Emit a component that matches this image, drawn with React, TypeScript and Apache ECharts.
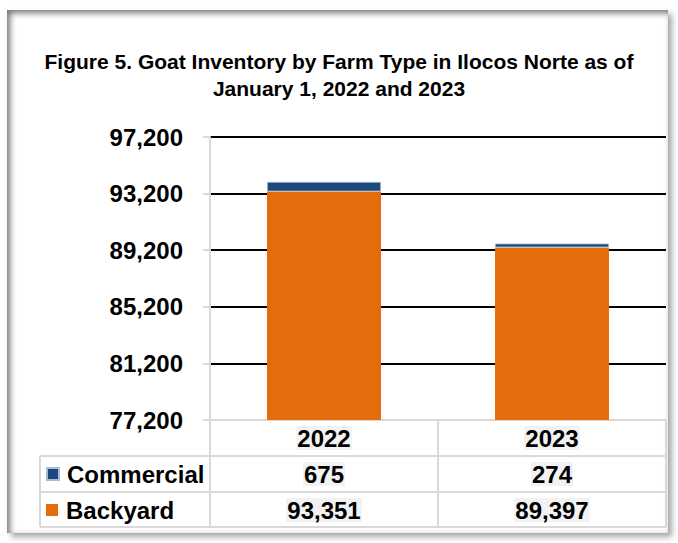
import React, { useEffect, useRef } from "react";
import * as echarts from "echarts";

const titleText = "Figure 5. Goat Inventory by Farm Type in Ilocos Norte as of\nJanuary 1, 2022 and 2023";
const years = ["2022", "2023"];
const seriesNames = ["Commercial", "Backyard"];
const commercial = [675, 274];
const backyard = [93351, 89397];
const yMin = 77200;
const yMax = 97200;
const yStep = 4000;

const fmt = (v: number) => v.toLocaleString("en-US");
const FONT = "'Liberation Sans', Arial, sans-serif";
const GRID_GREY = "#d9d9d9";

export default function App() {
  const ref = useRef<HTMLDivElement>(null);

  useEffect(() => {
    if (!ref.current) return;
    const chart = echarts.init(ref.current, undefined, { renderer: "svg" });

    const labelBase = {
      fontSize: 24,
      fontWeight: "bold" as const,
      color: "#000",
      fontFamily: FONT,
      verticalAlign: "middle" as const,
      backgroundColor: "#f2f2f2",
      padding: [0, 1, 0, 1],
    };
    const tableAxis = (data: string[], margin: number) => ({
      type: "category" as const,
      data,
      position: "bottom" as const,
      axisLine: { show: false },
      axisTick: { show: false },
      splitLine: { show: false },
      axisLabel: { ...labelBase, margin },
    });

    const legendBase = {
      left: 46,
      orient: "horizontal" as const,
      icon: "rect",
      itemWidth: 12,
      itemHeight: 12,
      itemGap: 8,
      padding: 0,
      selectedMode: false,
      textStyle: {
        fontSize: 24,
        fontWeight: "bold" as const,
        color: "#000",
        fontFamily: FONT,
        lineHeight: 24,
        padding: [0, 0, 0, 3],
      },
    };

    const line = (x1: number, y1: number, x2: number, y2: number) => ({
      type: "line",
      shape: { x1, y1, x2, y2 },
      style: { stroke: GRID_GREY, lineWidth: 2 },
      silent: true,
    });

    chart.setOption({
      animation: false,
      title: {
        text: titleText,
        left: "center",
        top: 43,
        textStyle: {
          fontSize: 21,
          fontWeight: "bold",
          color: "#000",
          fontFamily: FONT,
          lineHeight: 27,
        },
      },
      grid: { left: 210, right: 12, top: 137, bottom: 123 },
      legend: [
        { ...legendBase, top: 462, data: [seriesNames[0]] },
        { ...legendBase, top: 498, data: [seriesNames[1]] },
      ],
      xAxis: [
        tableAxis(years, 18),
        tableAxis(commercial.map(fmt), 54),
        tableAxis(backyard.map(fmt), 90),
      ],
      yAxis: {
        type: "value",
        min: yMin,
        max: yMax,
        interval: yStep,
        axisLine: { show: true, lineStyle: { color: GRID_GREY, width: 2 } },
        axisTick: { show: true, length: 7, lineStyle: { color: GRID_GREY, width: 2 } },
        axisLabel: {
          fontSize: 24,
          fontWeight: "bold",
          color: "#000",
          fontFamily: FONT,
          margin: 27,
          formatter: (v: number) => fmt(v),
        },
        splitLine: {
          show: true,
          lineStyle: { color: [GRID_GREY, "#000", "#000", "#000", "#000", "#000"], width: 2 },
        },
      },
      series: [
        {
          name: seriesNames[1],
          type: "bar",
          stack: "total",
          xAxisIndex: 0,
          data: backyard,
          barWidth: "50%",
          itemStyle: { color: "#E46C0A" },
        },
        {
          name: seriesNames[0],
          type: "bar",
          stack: "total",
          xAxisIndex: 0,
          data: commercial,
          barWidth: "50%",
          itemStyle: { color: "#1F497D", borderColor: "#a9bcd6", borderWidth: 0.8 },
        },
      ],
      graphic: [
        line(210, 420, 666, 420),
        line(40, 456, 666, 456),
        line(40, 492, 666, 492),
        line(40, 527, 666, 527),
        line(40, 456, 40, 527),
        line(210, 420, 210, 527),
        line(438, 420, 438, 527),
        line(666, 420, 666, 527),
      ],
    });

    return () => chart.dispose();
  }, []);

  return (
    <div style={{ position: "absolute", left: 0, top: 0, width: 678, height: 543, background: "#fff" }}>
      <div
        style={{
          position: "absolute",
          left: 7,
          top: 10,
          width: 661,
          height: 523,
          background: "#fff",
          boxShadow: "inset 3px 3px 6px rgba(0,0,0,0.55), 4px 4px 6px rgba(0,0,0,0.35)",
        }}
      />
      <div ref={ref} style={{ position: "absolute", left: 0, top: 0, width: 678, height: 543 }} />
    </div>
  );
}
